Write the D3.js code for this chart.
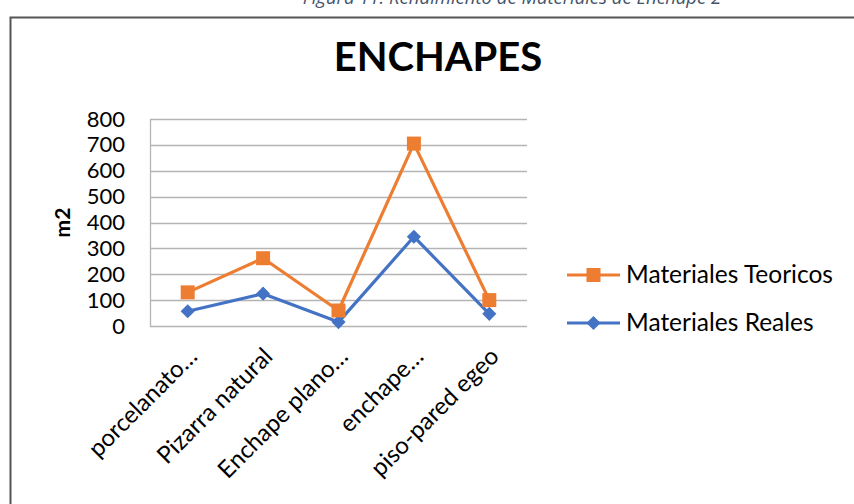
<!DOCTYPE html>
<html>
<head>
<meta charset="utf-8">
<script src="https://cdn.jsdelivr.net/npm/d3@7"></script>
<style>
  html, body { margin: 0; padding: 0; background: #fff; }
  svg { display: block; }
</style>
</head>
<body>
<svg id="chart" width="854" height="504"></svg>
<script>
const categories = ["porcelanato…", "Pizarra natural", "Enchape plano…", "enchape…", "piso-pared egeo"];
const teoricos = [130, 262, 60, 705, 100];
const reales = [57, 125, 15, 345, 47];
const yTicks = [0, 100, 200, 300, 400, 500, 600, 700, 800];
const seriesNames = ["Materiales Teoricos", "Materiales Reales"];
const seriesColors = ["#ed7d31", "#4472c4"];

const svg = d3.select("#chart");
const font = "Lato, 'Open Sans', sans-serif";

// caption above the chart frame (its upper part runs past the page top)
svg.append("text")
  .attr("x", 512).attr("y", 4)
  .attr("text-anchor", "middle")
  .attr("font-family", "'Open Sans', sans-serif")
  .attr("font-style", "italic")
  .attr("font-size", 18.5)
  .attr("fill", "#44546a")
  .text("Figura 11: Rendimiento de Materiales de Enchape 2");

// chart frame
svg.append("rect")
  .attr("x", 10.5).attr("y", 17.5)
  .attr("width", 900).attr("height", 600)
  .attr("fill", "#fff")
  .attr("stroke", "#555").attr("stroke-width", 2);

const plot = { left: 150, right: 527, top: 119, bottom: 326 };

const x = d3.scaleBand().domain(categories).range([plot.left, plot.right]);
const y = d3.scaleLinear().domain([0, 800]).range([plot.bottom, plot.top]);

// title
svg.append("text")
  .attr("x", 438).attr("y", 71)
  .attr("text-anchor", "middle")
  .attr("font-family", font)
  .attr("font-weight", "bold")
  .attr("font-size", 40)
  .attr("fill", "#000")
  .text("ENCHAPES");

// gridlines
svg.append("g")
  .selectAll("line")
  .data(yTicks)
  .join("line")
  .attr("x1", plot.left).attr("x2", plot.right)
  .attr("y1", d => Math.round(y(d)) + 0.5).attr("y2", d => Math.round(y(d)) + 0.5)
  .attr("stroke", "#b4b4b4").attr("stroke-width", 1.3);

// y axis
const yAxis = svg.append("g")
  .attr("transform", `translate(${plot.left},0)`)
  .call(d3.axisLeft(y).tickValues(yTicks).tickSize(0).tickPadding(25));
yAxis.select(".domain").attr("stroke", "#b4b4b4").attr("stroke-width", 1.3);
yAxis.selectAll("text")
  .attr("font-family", font)
  .attr("font-size", 22)
  .attr("fill", "#000");

// y axis title
svg.append("text")
  .attr("transform", `translate(70,${(plot.top + plot.bottom) / 2}) rotate(-90)`)
  .attr("text-anchor", "middle")
  .attr("font-family", font)
  .attr("font-weight", "bold")
  .attr("font-size", 21)
  .attr("fill", "#000")
  .text("m2");

// category labels
const xAxis = svg.append("g")
  .attr("transform", `translate(0,${plot.bottom})`)
  .call(d3.axisBottom(x).tickSize(0).tickPadding(0));
xAxis.select(".domain").remove();
xAxis.selectAll("text")
  .attr("font-family", font)
  .attr("font-size", 24)
  .attr("fill", "#000")
  .attr("text-anchor", "end")
  .attr("dy", 0)
  .attr("transform", "translate(11,32) rotate(-45)");

const cx = d => x(d) + x.bandwidth() / 2;
const line = d3.line().x(d => cx(d.cat)).y(d => y(d.v));

const square = { path: d3.symbol(d3.symbolSquare, 196)(), rot: 0 };
const diamond = { path: d3.symbol(d3.symbolSquare, 100)(), rot: 45 };

const series = [
  { name: seriesNames[0], color: seriesColors[0], values: teoricos, marker: square },
  { name: seriesNames[1], color: seriesColors[1], values: reales, marker: diamond }
];

// draw reales first, teoricos on top
[series[1], series[0]].forEach(s => {
  const pts = categories.map((c, i) => ({ cat: c, v: s.values[i] }));
  svg.append("path")
    .datum(pts)
    .attr("d", line)
    .attr("fill", "none")
    .attr("stroke", s.color)
    .attr("stroke-width", 3.2)
    .attr("stroke-linejoin", "round");
  svg.append("g")
    .selectAll("path")
    .data(pts)
    .join("path")
    .attr("transform", d => `translate(${cx(d.cat)},${y(d.v)}) rotate(${s.marker.rot})`)
    .attr("d", s.marker.path)
    .attr("fill", s.color);
});

// legend
const legend = svg.append("g");
series.forEach((s, i) => {
  const ly = 275 + i * 48;
  legend.append("line")
    .attr("x1", 567).attr("x2", 620)
    .attr("y1", ly).attr("y2", ly)
    .attr("stroke", s.color).attr("stroke-width", 3.2);
  legend.append("path")
    .attr("transform", `translate(593.5,${ly}) rotate(${s.marker.rot})`)
    .attr("d", s.marker.path)
    .attr("fill", s.color);
  legend.append("text")
    .attr("x", 626).attr("y", ly + 8)
    .attr("font-family", font)
    .attr("font-size", 24.5)
    .attr("fill", "#000")
    .text(s.name);
});
</script>
</body>
</html>
